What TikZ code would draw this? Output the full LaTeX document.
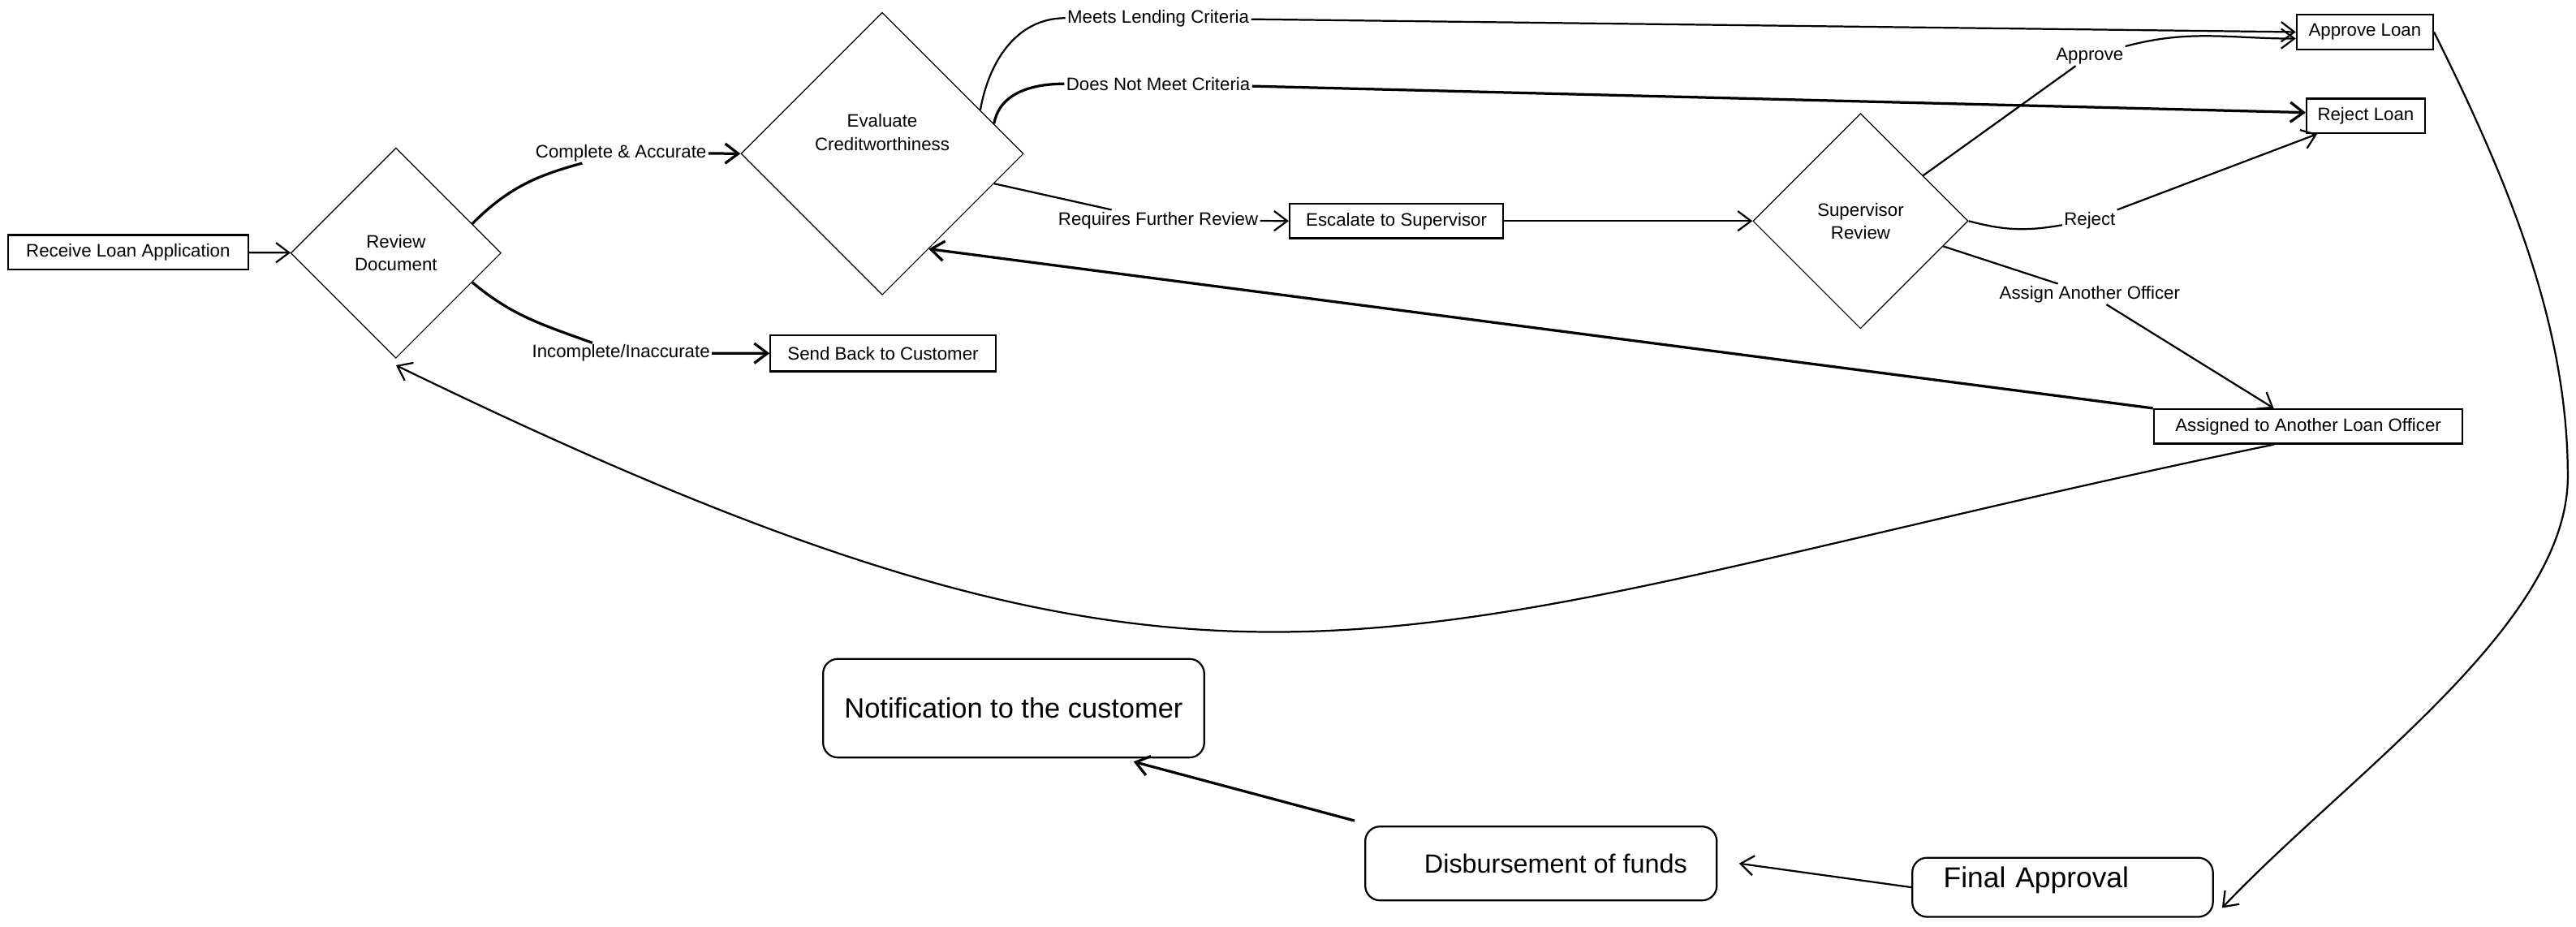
\documentclass[tikz,border=0pt]{standalone}
\usepackage{fontspec}
\setmainfont{Liberation Sans}
\usetikzlibrary{shapes.geometric, arrows.meta}
\tikzstyle{box} = [rectangle, draw, line width=1.1pt, minimum height=21pt, inner sep=2pt, font=\fontsize{11}{13}\selectfont]
\tikzstyle{decision} = [diamond, draw, line width=0.6pt, aspect=1, inner sep=0pt, align=center, font=\fontsize{11}{14}\selectfont]
\tikzstyle{endbox} = [rectangle, draw, rounded corners=9pt, line width=1.1pt, inner sep=2pt]
\tikzstyle{lbl} = [inner sep=1pt, font=\fontsize{11}{13}\selectfont]
\tikzset{
	conn/.style={line width=1.1pt, -{Straight Barb[length=8pt, width=12pt]}},
	heavy/.style={line width=1.6pt}
	}

\begin{document}
\begin{tikzpicture}[x=1pt, y=-1pt]
	\useasboundingbox (0,0) rectangle (1568,564);
	\node [box, minimum width=146pt] (recv) at (78,153.5) {Receive Loan Application};
	\node [decision, minimum width=128pt, minimum height=128pt] (rev) at (241,154) {Review\\Document};
	\node [decision, minimum width=172pt, minimum height=172pt] (eval) at (537,93.5) {Evaluate\\Creditworthiness\\[12pt]};
	\node [box, minimum width=137pt, minimum height=22pt] (sendb) at (537.5,215) {Send Back to Customer};
	\node [box, minimum width=130pt] (esc) at (850,134.5) {Escalate to Supervisor};
	\node [decision, minimum width=131pt, minimum height=131pt] (sup) at (1132.5,134.5) {Supervisor\\Review};
	\node [box, minimum width=83pt] (appr) at (1439.5,19.5) {Approve Loan};
	\node [box, minimum width=72pt] (rej) at (1440,70.5) {Reject Loan};
	\node [box, minimum width=188pt] (assig) at (1405,259.5) {Assigned to Another Loan Officer};
	\node [endbox, minimum width=232pt, minimum height=60pt, font=\fontsize{17}{20}\selectfont] (notif) at (617,431) {Notification to the customer};
	\node [endbox, minimum width=214pt, minimum height=45pt, font=\fontsize{16}{19}\selectfont] (disb) at (938,525.5) {\hspace{18pt}Disbursement of funds};
	\node [endbox, minimum width=183pt, minimum height=36pt, text width=145pt, inner xsep=19pt, align=left, font=\fontsize{17.5}{20}\selectfont] (fin) at (1255.5,540) {\smash{Final Approval}};

	% edge labels
	\node [lbl] (lca) at (378,93) {Complete \& Accurate};
	\node [lbl] (lia) at (378,215) {Incomplete/Inaccurate};
	\node [lbl] (lmeet) at (705,11) {Meets Lending Criteria};
	\node [lbl] (lnot) at (705,51) {Does Not Meet Criteria};
	\node [lbl] (lfur) at (705,134) {Requires Further Review};
	\node [lbl] (lapp) at (1272,34) {Approve};
	\node [lbl] (lrej) at (1272,134) {Reject};
	\node [lbl] (lasg) at (1272,179) {Assign Another Officer};

	\draw [conn] (recv) -- (rev);
	\draw [conn, heavy] (rev.21) to[out=45, in=195] (lca) -- (eval.west);
	\draw [conn, heavy] (rev.-21) to[out=-40, in=160] (lia) -- (sendb.west);
	\draw [conn] (eval.24) to[out=80, in=180] (lmeet) -- (appr.west);
	\draw [conn, heavy] (eval.15) to[out=80, in=180] (lnot) -- ([yshift=2pt]rej.west);
	\draw [conn] (eval.-15) -- (lfur) -- (esc.west);
	\draw [conn] (esc) -- (sup);
	\draw [conn] (sup.36) -- (lapp) to[out=15, in=180] ([yshift=-4pt]appr.west);
	\draw [conn] (sup.east) to[out=-15, in=190] (lrej) -- ([xshift=7pt]rej.south west);
	\draw [conn] (sup.-17) -- (lasg) -- ([xshift=-21pt]assig.north);
	\draw [conn, heavy] (assig.north west) -- (eval.-64);
	\draw [conn] ([xshift=-21pt]assig.south) .. controls +(-550,114) and +(520,253) .. ([yshift=-4pt]rev.south);
	\draw [conn] (appr.east) .. controls +(47,94) and +(0,-90) .. (1563,290) .. controls +(0,90) and +(78,-82) .. ([xshift=5pt, yshift=6pt]fin.south east);
	\draw [conn] (fin.west) -- ([xshift=13pt]disb.east);
	\draw [conn, heavy] ([xshift=-6pt, yshift=3pt]disb.north west) -- ([xshift=73pt, yshift=-2pt]notif.south);
\end{tikzpicture}
\end{document}
